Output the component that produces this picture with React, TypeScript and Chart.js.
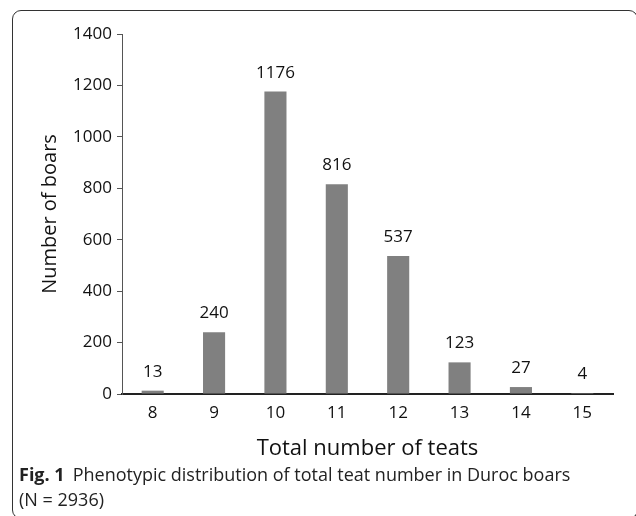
import React, { useEffect, useRef } from "react";
import { Chart, registerables } from "chart.js";

Chart.register(...registerables);

const categories = ["8", "9", "10", "11", "12", "13", "14", "15"];
const boarCounts = [13, 240, 1176, 816, 537, 123, 27, 4];
const yTicks = [0, 200, 400, 600, 800, 1000, 1200, 1400];

const FONT = "'Open Sans', 'Noto Sans', sans-serif";

const valueLabels = {
  id: "valueLabels",
  afterDatasetsDraw(chart: any) {
    const ctx = chart.ctx;
    const meta = chart.getDatasetMeta(0);
    ctx.save();
    ctx.font = `17px ${FONT}`;
    ctx.fillStyle = "#111";
    ctx.textAlign = "center";
    ctx.textBaseline = "alphabetic";
    meta.data.forEach((el: any, i: number) => {
      ctx.fillText(String(boarCounts[i]), el.x, el.y - 14);
    });
    ctx.restore();
  },
};

export default function App() {
  const ref = useRef<HTMLCanvasElement | null>(null);
  useEffect(() => {
    if (!ref.current) return;
    const chart = new Chart(ref.current, {
      type: "bar",
      data: {
        labels: categories,
        datasets: [
          {
            data: boarCounts,
            backgroundColor: "#808080",
            borderWidth: 0,
            categoryPercentage: 1,
            barPercentage: 0.36,
          },
        ],
      },
      options: {
        animation: false,
        responsive: false,
        devicePixelRatio: 1,
        layout: { padding: { left: 34, right: 23, top: 34, bottom: 0 } },
        plugins: {
          legend: { display: false },
          tooltip: { enabled: false },
        },
        scales: {
          x: {
            grid: { display: true, drawOnChartArea: false, drawTicks: false },
            border: { color: "#222", width: 2 },
            ticks: { font: { family: FONT, size: 17 }, color: "#111", padding: 9 },
            title: {
              display: true,
              text: "Total number of teats",
              font: { family: FONT, size: 22 },
              color: "#111",
              padding: { top: 4, bottom: 4 },
            },
            afterFit(scale: any) {
              scale.height = 72;
            },
          },
          y: {
            min: 0,
            max: 1400,
            afterBuildTicks(scale: any) {
              scale.ticks = yTicks.map((v) => ({ value: v }));
            },
            grid: { drawOnChartArea: false, drawTicks: true, tickLength: 5, color: "#555" },
            border: { color: "#555", width: 1 },
            ticks: {
              font: { family: FONT, size: 17 },
              color: "#111",
              padding: 5,
              callback: (v: any) => String(v),
            },
            title: {
              display: true,
              text: "Number of boars",
              font: { family: FONT, size: 20 },
              color: "#111",
              padding: { top: 4, bottom: 4 },
            },
            afterFit(scale: any) {
              scale.width = 88;
            },
          },
        },
      },
      plugins: [valueLabels],
    });
    return () => chart.destroy();
  }, []);

  return (
    <div
      style={{
        position: "fixed",
        left: 0,
        top: 0,
        width: 636,
        height: 516,
        overflow: "hidden",
        background: "#fff",
      }}
    >
      <div
        style={{
          position: "absolute",
          left: 12,
          top: 10,
          width: 626,
          height: 509,
          border: "1px solid #333",
          borderRadius: 9,
          boxSizing: "border-box",
        }}
      />
      <canvas
        ref={ref}
        width={636}
        height={466}
        style={{ position: "absolute", left: 0, top: 0, width: 636, height: 466 }}
      />
      <div
        style={{
          position: "absolute",
          left: 19,
          top: 462,
          width: 615,
          fontFamily: FONT,
          fontSize: 18,
          lineHeight: "25px",
          color: "#222",
          whiteSpace: "nowrap",
        }}
      >
        <span style={{ fontWeight: 700 }}>Fig. 1</span>
        <span style={{ marginLeft: 8 }}>Phenotypic distribution of total teat number in Duroc boars</span>
        <br />
        (N = 2936)
      </div>
    </div>
  );
}
